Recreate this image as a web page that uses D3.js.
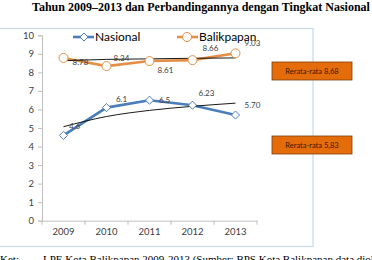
<!DOCTYPE html>
<html><head><meta charset="utf-8">
<script src="https://cdn.jsdelivr.net/npm/d3@7"></script>
<style>html,body{margin:0;padding:0;background:#fff;overflow:hidden}</style>
</head><body>
<svg id="c" width="372" height="260"></svg>
<script>
const years = ["2009","2010","2011","2012","2013"];
const nasional = [4.6, 6.1, 6.5, 6.23, 5.70];
const balikpapan = [8.78, 8.34, 8.61, 8.66, 9.03];
const nasionalLabels = ["4.6","6.1","6.5","6.23","5.70"];
const balikpapanLabels = ["8.78","8.34","8.61","8.66","9.03"];
const nasionalTrend = [5.07, 5.62, 5.95, 6.17, 6.34];
const balikpapanTrend = [8.63, 8.70, 8.73, 8.76, 8.78];
const yTicks = [0,1,2,3,4,5,6,7,8,9,10];
const averages = ["Rerata-rata 8,68", "Rerata-rata 5,83"];
const titleText = "Tahun 2009\u20132013 dan Perbandingannya dengan Tingkat Nasional (";
const noteLabel = "Ket:";
const noteText = "LPE Kota Balikpapan 2009-2013 (Sumber: BPS Kota Balikpapan data diolah )";

// label offsets (layout)
const nasOff = [[11,-9],[15,-8],[15,0],[14,-12],[17,-10]];
const balOff = [[17,4.5],[15,-8],[16,9],[18,-11.5],[17,-10]];

const svg = d3.select("#c");
const F = "Lato, 'Open Sans', sans-serif";

svg.append("text").attr("x",32).attr("y",10.5)
  .attr("font-family","'Liberation Serif','Times New Roman',serif")
  .attr("font-weight","bold").attr("font-size",12).attr("fill","#000").text(titleText);

// chart border
svg.append("rect").attr("x",-2).attr("y",28.5).attr("width",315).attr("height",218)
  .attr("fill","none").attr("stroke","#c6d9f1").attr("stroke-width",1.2);

const x = d3.scaleBand().domain(years).range([42,257]);
const y = d3.scaleLinear().domain([0,10]).range([220.7,35.3]);

const yAxis = svg.append("g").attr("transform","translate(42,0)")
  .call(d3.axisLeft(y).tickValues(yTicks).tickSize(4).tickPadding(4));
yAxis.select(".domain").attr("stroke","#bfbfbf");
yAxis.selectAll(".tick line").attr("stroke","#bfbfbf");
yAxis.selectAll("text").attr("font-family",F).attr("font-size",9.5).attr("fill","#404040");

const xAxis = svg.append("g").attr("transform","translate(0,220.7)")
  .call(d3.axisBottom(x).tickSize(0).tickPadding(8));
xAxis.select(".domain").attr("stroke","#bfbfbf");
xAxis.selectAll("text").attr("font-family",F).attr("font-size",9.5).attr("fill","#404040");
// band boundary ticks
svg.append("g").selectAll("line").data(years.concat(["end"])).join("line")
  .attr("x1",(d,i)=>42+i*x.bandwidth()).attr("x2",(d,i)=>42+i*x.bandwidth())
  .attr("y1",220.7).attr("y2",224.7).attr("stroke","#bfbfbf");

const cx = i => x(years[i]) + x.bandwidth()/2;
const line = d3.line().x((d,i)=>cx(i)).y(d=>y(d));

const blue = "#4a7ebb", orange = "#e48f45";

// series lines
svg.append("path").datum(balikpapan).attr("d",line).attr("fill","none")
  .attr("stroke",orange).attr("stroke-width",2.6);
svg.append("path").datum(nasional).attr("d",line).attr("fill","none")
  .attr("stroke",blue).attr("stroke-width",2.6);

// trend lines
svg.append("path").datum(balikpapanTrend).attr("d",line.curve(d3.curveMonotoneX)).attr("fill","none")
  .attr("stroke","#000").attr("stroke-width",0.9);
svg.append("path").datum(nasionalTrend).attr("d",line.curve(d3.curveMonotoneX)).attr("fill","none")
  .attr("stroke","#000").attr("stroke-width",0.9);

const diamond = d3.symbol().type(d3.symbolDiamond2).size(42);
svg.append("g").selectAll("path").data(nasional).join("path")
  .attr("d",diamond).attr("transform",(d,i)=>`translate(${cx(i)},${y(d)})`)
  .attr("fill","#fff").attr("stroke",blue).attr("stroke-width",1);
svg.append("g").selectAll("circle").data(balikpapan).join("circle")
  .attr("cx",(d,i)=>cx(i)).attr("cy",d=>y(d)).attr("r",4.5)
  .attr("fill","#fff").attr("stroke",orange).attr("stroke-width",1);

// data labels
svg.append("g").selectAll("text").data(balikpapanLabels).join("text")
  .attr("x",(d,i)=>cx(i)+balOff[i][0]).attr("y",(d,i)=>y(balikpapan[i])+balOff[i][1])
  .attr("dy","0.35em").attr("text-anchor","middle")
  .attr("font-family",F).attr("font-size",8).attr("fill","#404040").text(d=>d);
svg.append("g").selectAll("text").data(nasionalLabels).join("text")
  .attr("x",(d,i)=>cx(i)+nasOff[i][0]).attr("y",(d,i)=>y(nasional[i])+nasOff[i][1])
  .attr("dy","0.35em").attr("text-anchor","middle")
  .attr("font-family",F).attr("font-size",8).attr("fill","#404040").text(d=>d);

// legend
const lg = svg.append("g");
lg.append("line").attr("x1",73).attr("x2",94).attr("y1",37).attr("y2",37).attr("stroke",blue).attr("stroke-width",2.6);
lg.append("path").attr("d",diamond).attr("transform","translate(84,37)").attr("fill","#fff").attr("stroke",blue);
lg.append("text").attr("x",95).attr("y",37).attr("dy","0.35em").attr("font-family",F).attr("font-size",12).attr("fill","#000").text("Nasional");
lg.append("line").attr("x1",177).attr("x2",198).attr("y1",37).attr("y2",37).attr("stroke",orange).attr("stroke-width",2.6);
lg.append("circle").attr("cx",187).attr("cy",37).attr("r",4.5).attr("fill","#fff").attr("stroke",orange);
lg.append("text").attr("x",199).attr("y",37).attr("dy","0.35em").attr("font-family",F).attr("font-size",12).attr("fill","#000").text("Balikpapan");

// average boxes
const boxY = [62, 136];
const bg = svg.append("g").selectAll("g").data(averages).join("g")
  .attr("transform",(d,i)=>`translate(272,${boxY[i]})`);
bg.append("rect").attr("width",80).attr("height",18).attr("fill","#e46c0a").attr("stroke","#7f3f0a").attr("stroke-width",0.8);
bg.append("text").attr("x",40).attr("y",9).attr("dy","0.35em").attr("text-anchor","middle")
  .attr("font-family",F).attr("font-size",7.5).attr("fill","#3a1a00").text(d=>d);

// note
svg.append("text").attr("x",0).attr("y",263).attr("font-family","'Liberation Serif','Times New Roman',serif")
  .attr("font-size",11).attr("fill","#000").text(noteLabel);
svg.append("text").attr("x",43).attr("y",263).attr("font-family","'Liberation Serif','Times New Roman',serif")
  .attr("font-size",11).attr("fill","#000").text(noteText);
</script>
</body></html>
